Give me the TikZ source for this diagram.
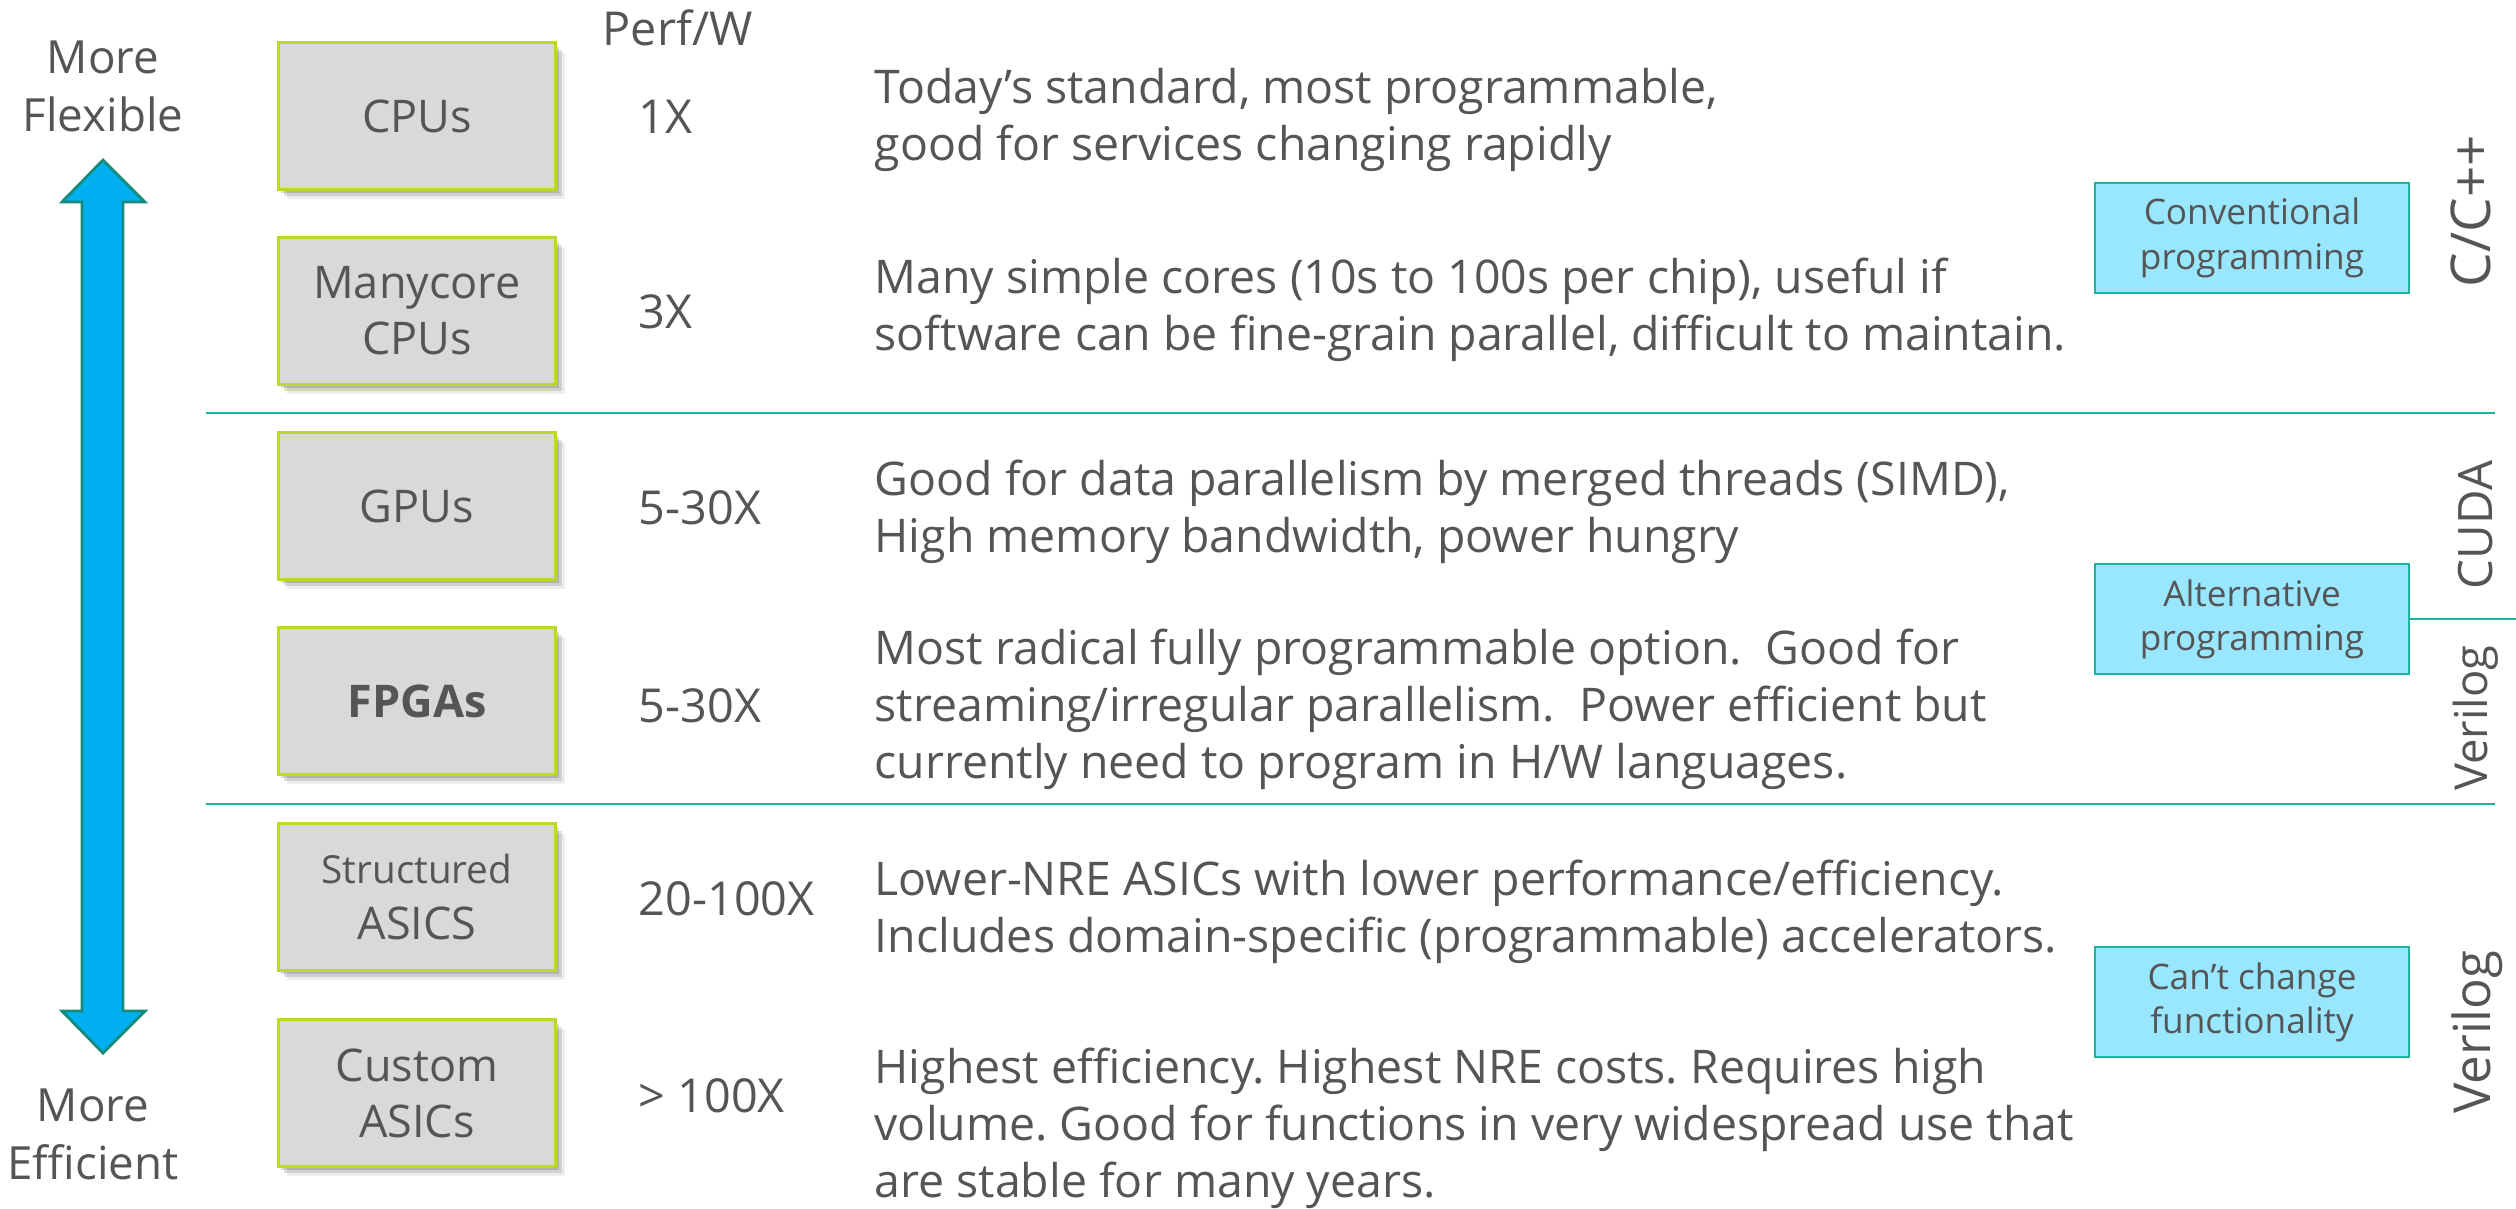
\documentclass[tikz,border=0pt]{standalone}
\usepackage{fontspec}
\setmainfont{Open Sans}
\usetikzlibrary{shadows}
\frenchspacing

\definecolor{txt}{HTML}{555555}
\definecolor{chipfill}{HTML}{D9D9D9}
\definecolor{chipedge}{HTML}{BDD72C}
\definecolor{rulecol}{HTML}{1DB39D}
\definecolor{arrowfill}{HTML}{00B0F0}
\definecolor{arrowedge}{HTML}{168A7C}
\definecolor{notefill}{HTML}{99E6FF}
\definecolor{noteedge}{HTML}{1DB39D}

\tikzset{
  chip/.style={draw=chipedge, line width=0.85pt, fill=chipfill,
    minimum width=2.77cm, minimum height=1.46cm, inner sep=0pt,
    align=center, text=txt, font=\fontsize{12.8}{15.9}\selectfont,
    drop shadow={shadow xshift=0.03cm, shadow yshift=-0.04cm, fill=black, opacity=0.14},
    drop shadow={shadow xshift=0.06cm, shadow yshift=-0.07cm, fill=black, opacity=0.12},
    drop shadow={shadow xshift=0.09cm, shadow yshift=-0.10cm, fill=black, opacity=0.07}},
  perf/.style={anchor=base west, inner sep=0pt, text=txt, font=\fontsize{13.3}{16}\selectfont},
  % placed by the baseline of the last line
  desc/.style={anchor=base west, inner sep=0pt, align=left, text=txt,
    font=\fontsize{13.2}{16.2}\selectfont},
  note/.style={draw=noteedge, line width=0.7pt, fill=notefill,
    minimum width=3.14cm, minimum height=1.10cm, inner sep=0pt,
    align=center, text=txt, font=\fontsize{10}{12.6}\selectfont},
  lang/.style={rotate=90, inner sep=0pt, text=txt},
  side/.style={align=center, inner sep=0pt, text=txt, font=\fontsize{13}{16.5}\selectfont},
  divider/.style={draw=rulecol, line width=0.8pt},
}

\begin{document}
\begin{tikzpicture}[x=0.01cm, y=-0.01cm]
\useasboundingbox (0,0) rectangle (2516,1208);

% flexibility / efficiency axis
\node[side] (flex) at (103,86) {More\\Flexible};
\node[side] (eff) at (93,1134) {More\\Efficient};
\draw[fill=arrowfill, draw=arrowedge, line width=0.8pt, line join=miter]
  (103,160) -- (145,202) -- (123,202) -- (123,1011) -- (145,1011)
  -- (103,1053) -- (62,1011) -- (82,1011) -- (82,202) -- (62,202) -- cycle;

% group dividers
\draw[divider] (206,413) -- (2495,413);
\draw[divider] (206,804) -- (2495,804);

% processor classes
\node[chip] (cpu)  at (417,116) {CPUs};
\node[chip] (many) at (417,311) {Manycore\\CPUs};
\node[chip] (gpu)  at (417,506) {GPUs};
\node[chip] (fpga) at (417,701) {\bfseries FPGAs};
\node[chip] (sasic) at (417,897) {{\fontsize{11}{15.9}\selectfont Structured}\\ASICS};
\node[chip] (casic) at (417,1093) {Custom\\ASICs};

% performance per watt
\node[perf] (phead) at (602,45) {Perf/W};
\node[perf] (p1) at (638,133) {1X};
\node[perf] (p2) at (638,328) {3X};
\node[perf] (p3) at (638,524) {5-30X};
\node[perf] (p4) at (638,722) {5-30X};
\node[perf] (p5) at (638,915) {20-100X};
\node[perf] (p6) at (638,1112) {> 100X};

% descriptions
\node[desc] (d1) at (874,160) {Today’s standard, most programmable,\\good for services changing rapidly};
\node[desc] (d2) at (874,350) {Many simple cores (10s to 100s per chip), useful if\\software can be fine-grain parallel, difficult to maintain.};
\node[desc] (d3) at (874,552) {Good for data parallelism by merged threads (SIMD),\\High memory bandwidth, power hungry};
\node[desc] (d4) at (874,778) {Most radical fully programmable option.\ \ Good for\\streaming/irregular parallelism.\ \ Power efficient but\\currently need to program in H/W languages.};
\node[desc] (d5) at (874,952) {Lower-NRE ASICs with lower performance/efficiency.\\Includes domain-specific (programmable) accelerators.};
\node[desc] (d6) at (874,1197) {Highest efficiency. Highest NRE costs. Requires high\\volume. Good for functions in very widespread use that\\are stable for many years.};

% programming model notes
\node[note] (conv)  at (2252,238) {Conventional\\programming};
\node[note] (alt)   at (2252,619) {Alternative\\programming};
\node[note] (fixed) at (2252,1002) {Can’t change\\functionality};
\coordinate (altend) at (2516,619);
\draw[divider] (alt.east) -- (altend);

% languages
\node[lang, font=\fontsize{15.6}{18}\selectfont] (lcpp) at (2471,211) {C/C++};
\node[lang, font=\fontsize{13.5}{16}\selectfont] (lcuda) at (2475,525) {CUDA};
\node[lang, font=\fontsize{12.9}{16}\selectfont] (lver1) at (2476,718) {Verilog};
\node[lang, font=\fontsize{14.5}{17}\selectfont] (lver2) at (2477,1032) {Verilog};
\end{tikzpicture}
\end{document}
